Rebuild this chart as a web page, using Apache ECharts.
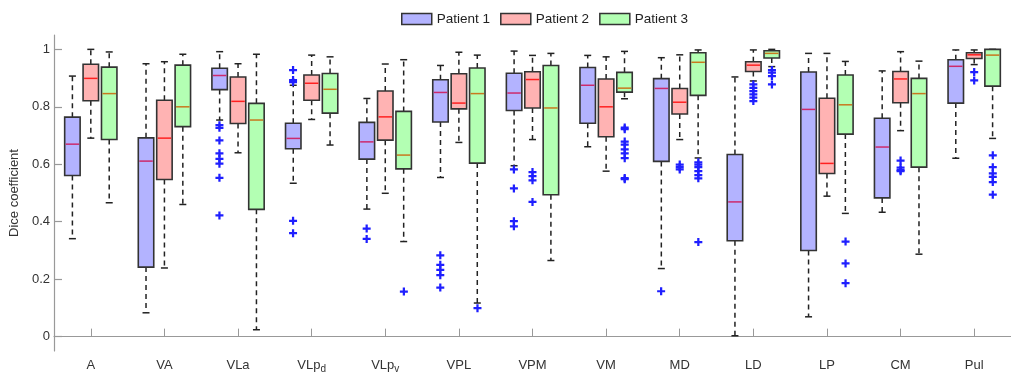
<!DOCTYPE html>
<html>
<head>
<meta charset="utf-8">
<script src="https://cdn.jsdelivr.net/npm/echarts@6/dist/echarts.min.js"></script>
<style>
html,body{margin:0;padding:0;background:#fff;}
#main{width:1011px;height:381px;}
</style>
</head>
<body>
<div id="main"></div>
<script>
// ---- data ----
const categories = ['A', 'VA', 'VLa', 'VLpd', 'VLpv', 'VPL', 'VPM', 'VM', 'MD', 'LD', 'LP', 'CM', 'Pul'];
const seriesNames = ['Patient 1', 'Patient 2', 'Patient 3'];
const yTicks = [0, 0.2, 0.4, 0.6, 0.8, 1];

// [lower whisker, q1, median, q3, upper whisker]
const p1Boxes = [
  [0.341, 0.561, 0.670, 0.764, 0.907],
  [0.083, 0.242, 0.611, 0.692, 0.950],
  [0.754, 0.860, 0.909, 0.934, 0.992],
  [0.534, 0.654, 0.690, 0.743, 0.875],
  [0.444, 0.618, 0.678, 0.746, 0.829],
  [0.554, 0.747, 0.850, 0.894, 0.944],
  [0.595, 0.787, 0.848, 0.917, 0.994],
  [0.661, 0.743, 0.875, 0.937, 0.979],
  [0.237, 0.610, 0.864, 0.898, 0.971],
  [0.003, 0.334, 0.469, 0.634, 0.904],
  [0.069, 0.300, 0.791, 0.921, 0.986],
  [0.433, 0.483, 0.660, 0.760, 0.925],
  [0.621, 0.813, 0.941, 0.964, 0.998]
];
const p2Boxes = [
  [0.691, 0.821, 0.899, 0.948, 1.000],
  [0.239, 0.547, 0.691, 0.823, 0.957],
  [0.640, 0.742, 0.819, 0.904, 0.950],
  [0.756, 0.823, 0.882, 0.911, 0.980],
  [0.499, 0.684, 0.765, 0.855, 0.949],
  [0.676, 0.793, 0.813, 0.915, 0.990],
  [0.686, 0.796, 0.895, 0.922, 0.979],
  [0.576, 0.696, 0.800, 0.897, 0.974],
  [0.686, 0.775, 0.816, 0.864, 0.981],
  [0.890, 0.923, 0.945, 0.957, 0.998],
  [0.489, 0.568, 0.603, 0.830, 0.986],
  [0.717, 0.814, 0.897, 0.923, 0.992],
  [0.947, 0.968, 0.981, 0.988, 0.998]
];
const p3Boxes = [
  [0.466, 0.686, 0.846, 0.938, 0.991],
  [0.460, 0.731, 0.800, 0.945, 0.983],
  [0.024, 0.443, 0.754, 0.812, 0.983],
  [0.667, 0.778, 0.861, 0.916, 0.974],
  [0.331, 0.584, 0.632, 0.784, 0.964],
  [0.117, 0.604, 0.846, 0.935, 0.980],
  [0.265, 0.494, 0.796, 0.944, 0.986],
  [0.828, 0.851, 0.865, 0.920, 0.993],
  [0.622, 0.840, 0.955, 0.988, 0.998],
  [0.940, 0.970, 0.986, 0.995, 1.000],
  [0.429, 0.705, 0.807, 0.911, 0.958],
  [0.287, 0.590, 0.846, 0.899, 0.959],
  [0.690, 0.872, 0.980, 1.000, 1.000]
];

// outliers per category
const p1Outliers = [
  [], [], [0.736, 0.727, 0.683, 0.638, 0.619, 0.602, 0.553, 0.422],
  [0.928, 0.893, 0.886, 0.403, 0.360], [0.376, 0.340],
  [0.283, 0.250, 0.232, 0.214, 0.171], [0.582, 0.516, 0.402, 0.384],
  [], [0.158], [], [], [], []
];
const p2Outliers = [
  [], [], [], [], [], [], [0.573, 0.559, 0.544, 0.469], [],
  [0.599, 0.590, 0.582], [0.878, 0.866, 0.855, 0.843, 0.832, 0.820], [],
  [0.613, 0.588, 0.580, 0.576], [0.921, 0.892]
];
const p3Outliers = [
  [], [], [], [], [0.157], [0.099], [],
  [0.728, 0.722, 0.679, 0.668, 0.652, 0.638, 0.621, 0.552, 0.548],
  [0.607, 0.599, 0.590, 0.576, 0.562, 0.551, 0.329],
  [0.928, 0.919, 0.907, 0.878], [0.331, 0.255, 0.186], [],
  [0.631, 0.590, 0.568, 0.556, 0.538, 0.494]
];

// ---- styling ----
const FONT = '"Liberation Sans", Arial, Helvetica, sans-serif';
const fills = ['#b3b3ff', '#ffb3b3', '#b3ffb3'];
const medians = ['#cc2a6c', '#ff2020', '#c8781e'];
const offFracs = [-0.25, 0, 0.25];
const boxFrac = 0.21;
const edge = '#333333';

// axis extent (data grid) and the tick-grid that maps 0..1 onto the same pixels
const yMin = -0.05, yMax = 1.05;
const gridTop = 35, gridBottom = 30, H = 381;
const plotH = H - gridTop - gridBottom;
const pxPerUnit = plotH / (yMax - yMin);
const tickTop = gridTop + (yMax - 1) * pxPerUnit;
const tickBottom = gridBottom + (0 - yMin) * pxPerUnit;

function boxData(boxes) {
  return boxes.map((b, i) => [i, b[0], b[1], b[2], b[3], b[4]]);
}
function outlierData(outs) {
  const res = [];
  outs.forEach((arr, i) => arr.forEach(v => res.push([i, v])));
  return res;
}

function makeRender(k) {
  return function (params, api) {
    const cat = api.value(0);
    const band = api.size([1, 0])[0];
    const off = band * offFracs[k];
    const w = band * boxFrac;
    const cx = api.coord([cat, 0])[0] + off;
    const yLo = api.coord([cat, api.value(1)])[1];
    const yQ1 = api.coord([cat, api.value(2)])[1];
    const yMed = api.coord([cat, api.value(3)])[1];
    const yQ3 = api.coord([cat, api.value(4)])[1];
    const yHi = api.coord([cat, api.value(5)])[1];
    const cap = 3.5;
    const dashStyle = {stroke: '#222', lineWidth: 1.5, lineDash: [5, 4]};
    const solid = {stroke: '#222', lineWidth: 1.5};
    return {
      type: 'group',
      children: [
        {type: 'line', shape: {x1: cx, y1: yQ3, x2: cx, y2: yHi}, style: dashStyle},
        {type: 'line', shape: {x1: cx, y1: yQ1, x2: cx, y2: yLo}, style: dashStyle},
        {type: 'line', shape: {x1: cx - cap, y1: yHi, x2: cx + cap, y2: yHi}, style: solid},
        {type: 'line', shape: {x1: cx - cap, y1: yLo, x2: cx + cap, y2: yLo}, style: solid},
        {type: 'rect', shape: {x: cx - w / 2, y: yQ3, width: w, height: yQ1 - yQ3},
          style: {fill: fills[k], stroke: edge, lineWidth: 1.6}},
        {type: 'line', shape: {x1: cx - w / 2 + 1, y1: yMed, x2: cx + w / 2 - 1, y2: yMed},
          style: {stroke: medians[k], lineWidth: 1.5}}
      ]
    };
  };
}

const allBoxes = [p1Boxes, p2Boxes, p3Boxes];
const allOutliers = [p1Outliers, p2Outliers, p3Outliers];
const plusPath = 'path://M3.6,0H6.4V3.6H10V6.4H6.4V10H3.6V6.4H0V3.6H3.6Z';

const chart = echarts.init(document.getElementById('main'), null, {renderer: 'canvas'});
const series = [];
seriesNames.forEach((name, k) => {
  series.push({
    name: name,
    type: 'custom',
    renderItem: makeRender(k),
    encode: {x: 0, y: [1, 2, 3, 4, 5]},
    itemStyle: {color: fills[k], borderColor: edge, borderWidth: 1.5},
    data: boxData(allBoxes[k]),
    z: 2
  });
});
seriesNames.forEach((name, k) => {
  series.push({
    name: name + ' outliers',
    type: 'scatter',
    symbol: plusPath,
    symbolSize: 8,
    symbolOffset: [Math.round(74.4 * offFracs[k] * 10) / 10, 0],
    itemStyle: {color: '#1f1fff', opacity: 1},
    data: outlierData(allOutliers[k]),
    silent: true,
    z: 3
  });
});

const subLabel = (c) => {
  if (c === 'VLpd') return '{m|VLp}{s|d}';
  if (c === 'VLpv') return '{m|VLp}{s|v}';
  return '{m|' + c + '}';
};

chart.setOption({
  animation: false,
  backgroundColor: '#ffffff',
  textStyle: {fontFamily: FONT},
  legend: {
    left: 396,
    top: 7,
    icon: 'rect',
    itemWidth: 30,
    itemHeight: 11,
    itemGap: 10,
    textStyle: {fontSize: 13.5, color: '#222', fontFamily: FONT},
    data: seriesNames.map((n, k) => ({
      name: n,
      itemStyle: {color: fills[k], borderColor: edge, borderWidth: 1.5}
    }))
  },
  grid: [
    // data grid
    {left: 54, right: -11, top: gridTop, bottom: gridBottom},
    // label grid (0..1 on the same pixels)
    {left: 54, right: 20, top: tickTop, bottom: tickBottom},
    // narrow tick grid: its split lines act as the inward y ticks
    {left: 54, width: 8, top: tickTop, bottom: tickBottom}
  ],
  xAxis: [{
    type: 'category',
    gridIndex: 0,
    data: categories,
    boundaryGap: true,
    axisLine: {show: true, lineStyle: {color: '#999', width: 1.2}},
    axisTick: {show: true, inside: true, alignWithLabel: true, interval: 0, length: 8,
      lineStyle: {color: '#999', width: 1}},
    axisLabel: {
      interval: 0,
      margin: 8,
      color: '#333',
      fontFamily: FONT,
      formatter: subLabel,
      rich: {
        m: {fontSize: 13, lineHeight: 15, verticalAlign: 'top', color: '#333', fontFamily: FONT},
        s: {fontSize: 10, lineHeight: 10, verticalAlign: 'bottom', padding: [8, 0, 0, 0],
          color: '#333', fontFamily: FONT}
      }
    },
    splitLine: {show: false}
  }, {
    type: 'category',
    gridIndex: 1,
    data: categories,
    show: false
  }, {
    type: 'category',
    gridIndex: 2,
    data: categories,
    show: false
  }],
  yAxis: [{
    type: 'value',
    gridIndex: 0,
    min: yMin,
    max: yMax,
    axisLine: {show: true, lineStyle: {color: '#999', width: 1.2}},
    axisTick: {show: false},
    axisLabel: {show: false},
    splitLine: {show: false}
  }, {
    type: 'value',
    gridIndex: 1,
    min: yTicks[0],
    max: yTicks[yTicks.length - 1],
    interval: yTicks[1] - yTicks[0],
    name: 'Dice coefficient',
    nameLocation: 'middle',
    nameGap: 33,
    nameTextStyle: {fontSize: 13, color: '#333', fontFamily: FONT},
    axisLine: {show: false},
    axisTick: {show: false},
    axisLabel: {margin: 5, fontSize: 13, color: '#333', fontFamily: FONT,
      formatter: (v) => String(Math.round(v * 10) / 10)},
    splitLine: {show: false}
  }, {
    type: 'value',
    gridIndex: 2,
    min: yTicks[0],
    max: yTicks[yTicks.length - 1],
    interval: yTicks[1] - yTicks[0],
    axisLine: {show: false},
    axisTick: {show: false},
    axisLabel: {show: false},
    splitLine: {show: true, lineStyle: {color: '#999', width: 1.2, type: 'solid'}}
  }],
  series: series
});
</script>
</body>
</html>
